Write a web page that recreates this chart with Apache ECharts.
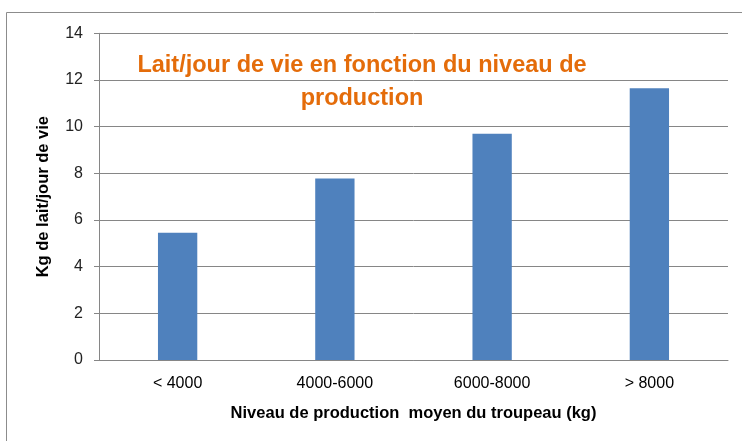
<!DOCTYPE html>
<html><head><meta charset="utf-8">
<script src="https://cdn.jsdelivr.net/npm/echarts@6/dist/echarts.min.js"></script>
<style>html,body{margin:0;padding:0;background:#fff}#c{width:742px;height:441px}</style>
</head><body><div id="c"></div>
<script>
const categories = ['< 4000', '4000-6000', '6000-8000', '> 8000'];
const values = [5.45, 7.78, 9.7, 11.65];
const yTicks = [0, 2, 4, 6, 8, 10, 12, 14];
const titleLines = ['Lait/jour de vie en fonction du niveau de', 'production'];

const FF = 'Liberation Sans, Arial, sans-serif';
const chart = echarts.init(document.getElementById('c'), null, {renderer: 'canvas'});
chart.setOption({
  animation: false,
  graphic: [{
    type: 'rect', shape: {x: 6.5, y: 12.5, width: 800, height: 500},
    style: {fill: 'none', stroke: '#8c8c8c', lineWidth: 1}, z: -1
  }],
  title: {
    text: titleLines.join('\n'), left: 357, top: 44, textAlign: 'center',
    textStyle: {color: '#E46C0A', fontSize: 23.5, fontWeight: 'bold', fontFamily: FF, lineHeight: 33}
  },
  grid: {left: 99, right: 14, top: 33.3, bottom: 81},
  xAxis: {
    type: 'category', data: categories,
    name: 'Niveau de production  moyen du troupeau (kg)', nameLocation: 'middle', nameGap: 45,
    nameTextStyle: {fontSize: 16.5, fontWeight: 'bold', color: '#000', fontFamily: FF},
    axisLine: {lineStyle: {color: '#868686'}},
    axisTick: {show: false},
    axisLabel: {fontSize: 16, color: '#000', margin: 16, fontFamily: FF}
  },
  yAxis: {
    type: 'value', min: 0, max: 14, interval: 2,
    name: 'Kg de lait/jour de vie', nameLocation: 'middle', nameGap: 47, nameRotate: 90,
    nameTextStyle: {fontSize: 16.5, fontWeight: 'bold', color: '#000', fontFamily: FF},
    axisLine: {show: true, lineStyle: {color: '#868686'}},
    axisTick: {show: true, length: 5, lineStyle: {color: '#868686'}},
    splitLine: {lineStyle: {color: '#868686'}},
    axisLabel: {fontSize: 16, color: '#222', margin: 16, fontFamily: FF,
      formatter: v => yTicks.includes(v) ? String(v) : ''}
  },
  series: [{
    type: 'bar', data: values, barWidth: '25%',
    itemStyle: {color: '#4F81BD'}
  }]
});
</script></body></html>
